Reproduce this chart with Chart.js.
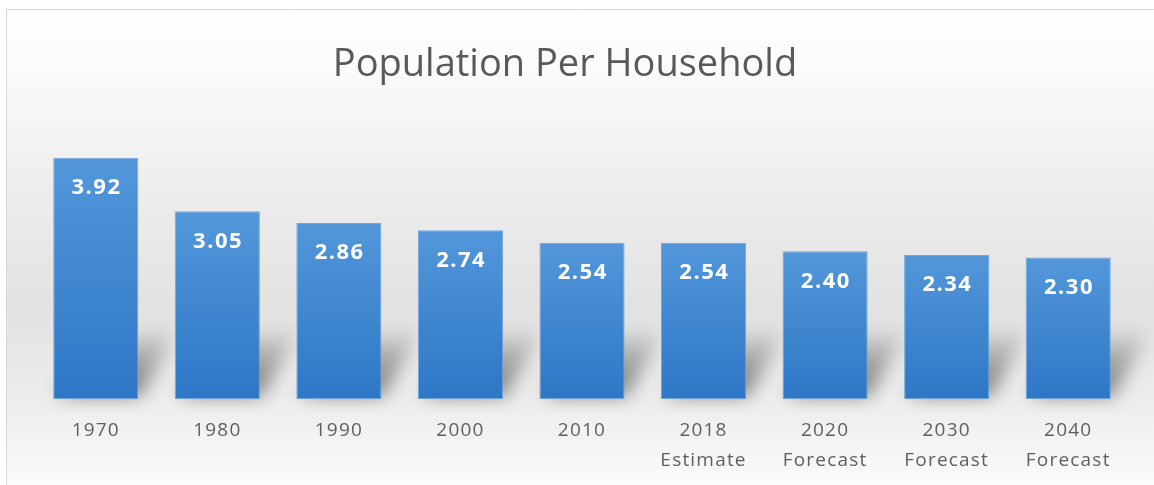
<!DOCTYPE html>
<html>
<head>
<meta charset="utf-8">
<title>Population Per Household</title>
<script src="https://cdn.jsdelivr.net/npm/chart.js@4/dist/chart.umd.min.js"></script>
<style>
  html, body { margin: 0; padding: 0; background: #ffffff; }
  #wrap { width: 1154px; height: 485px; }
</style>
</head>
<body>
<div id="wrap"><canvas id="c" width="1154" height="485"></canvas></div>
<script>
// Decennial census years plus estimate / forecast years
const years = ['1970', '1980', '1990', '2000', '2010', '2018', '2020', '2030', '2040'];
const yearNotes = ['', '', '', '', '', 'Estimate', 'Forecast', 'Forecast', 'Forecast'];
// Average number of persons per household
const personsPerHousehold = [3.92, 3.05, 2.86, 2.74, 2.54, 2.54, 2.40, 2.34, 2.30];

const chartTitle = 'Population Per Household';

// Category labels: year on the first line, note (if any) on the second
const categoryLabels = years.map((y, i) => yearNotes[i] ? [y, yearNotes[i]] : [y]);

// Soft grey backdrop with a thin frame on the top and left edges
const backdrop = {
  id: 'backdrop',
  beforeDraw(chart) {
    const { ctx, width, height } = chart;
    ctx.save();
    ctx.fillStyle = '#ffffff';
    ctx.fillRect(0, 0, width, height);
    const g = ctx.createLinearGradient(0, 9, 0, height);
    g.addColorStop(0.00, '#ffffff');
    g.addColorStop(0.12, '#fbfbfb');
    g.addColorStop(0.35, '#efefef');
    g.addColorStop(0.62, '#e2e2e2');
    g.addColorStop(0.80, '#ebebeb');
    g.addColorStop(1.00, '#fbfbfb');
    ctx.fillStyle = g;
    ctx.fillRect(6, 9, width - 6, height - 9);
    ctx.strokeStyle = '#d6d6d6';
    ctx.lineWidth = 1;
    ctx.beginPath();
    ctx.moveTo(6.5, height);
    ctx.lineTo(6.5, 9.5);
    ctx.lineTo(width, 9.5);
    ctx.stroke();
    ctx.restore();

    // Chart heading
    ctx.save();
    ctx.fillStyle = '#595959';
    ctx.font = '38px "Open Sans"';
    ctx.textAlign = 'center';
    ctx.textBaseline = 'alphabetic';
    ctx.fillText(chartTitle, 565, 76);
    ctx.restore();

    // slightly open letter spacing for the axis labels drawn next
    ctx.letterSpacing = '1.2px';
  },
  afterDraw(chart) {
    chart.ctx.letterSpacing = '0px';
  }
};

// Blurred perspective shadow cast behind each bar towards the upper right
const barShadows = {
  id: 'barShadows',
  beforeDatasetsDraw(chart) {
    const { ctx } = chart;
    const meta = chart.getDatasetMeta(0);
    ctx.save();
    ctx.filter = 'blur(9px)';
    meta.data.forEach(bar => {
      const left = bar.x - bar.width / 2;
      const right = bar.x + bar.width / 2;
      const bottom = bar.base;
      const g = ctx.createLinearGradient(0, bottom - 72, 0, bottom);
      g.addColorStop(0, 'rgba(0,0,0,0)');
      g.addColorStop(0.4, 'rgba(0,0,0,0.26)');
      g.addColorStop(1, 'rgba(0,0,0,0.5)');
      ctx.fillStyle = g;
      ctx.beginPath();
      ctx.moveTo(left + 6, bottom - 3);
      ctx.lineTo(right + 2, bottom - 3);
      ctx.lineTo(right + 40, bottom - 70);
      ctx.lineTo(left + 46, bottom - 70);
      ctx.closePath();
      ctx.fill();
    });
    ctx.restore();
  }
};

// Value printed in white near the top of every bar
const valueLabels = {
  id: 'valueLabels',
  afterDatasetsDraw(chart) {
    const { ctx } = chart;
    const meta = chart.getDatasetMeta(0);
    const data = chart.data.datasets[0].data;
    ctx.save();
    ctx.letterSpacing = '1.5px';
    ctx.fillStyle = '#ffffff';
    ctx.font = 'bold 22px "Open Sans"';
    ctx.textAlign = 'center';
    ctx.textBaseline = 'middle';
    meta.data.forEach((bar, i) => {
      ctx.fillText(data[i].toFixed(2), bar.x + 0.75, bar.y + 30);
    });
    ctx.restore();
  }
};

function barFill(context) {
  const chart = context.chart;
  const y = chart.scales && chart.scales.y;
  if (!chart.chartArea || !y) return '#4088d0';
  const v = context.dataset.data[context.dataIndex];
  const top = y.getPixelForValue(v);
  const bottom = y.getPixelForValue(0);
  const g = chart.ctx.createLinearGradient(0, top, 0, bottom);
  g.addColorStop(0, '#5397da');
  g.addColorStop(1, '#2e77c6');
  return g;
}

new Chart(document.getElementById('c'), {
  type: 'bar',
  data: {
    labels: categoryLabels,
    datasets: [{
      data: personsPerHousehold,
      backgroundColor: barFill,
      borderColor: 'rgba(98,158,220,0.9)',
      borderWidth: 1,
      borderSkipped: false,
      categoryPercentage: 1.0,
      barPercentage: 0.7
    }]
  },
  options: {
    responsive: false,
    devicePixelRatio: 1,
    animation: false,
    layout: { padding: { top: 122, left: 35, right: 25, bottom: 0 } },
    plugins: {
      legend: { display: false },
      tooltip: { enabled: false },
      title: { display: false }
    },
    scales: {
      x: {
        grid: { display: false, drawTicks: false },
        border: { display: false },
        ticks: {
          color: '#5f5f5f',
          font: { family: '"Open Sans"', size: 19, lineHeight: 1.58 },
          padding: 17,
          maxRotation: 0,
          autoSkip: false
        },
        afterFit(scale) { scale.height = 86; }
      },
      y: {
        display: false,
        min: 0,
        max: 4.5
      }
    }
  },
  plugins: [backdrop, barShadows, valueLabels]
});
</script>
</body>
</html>
